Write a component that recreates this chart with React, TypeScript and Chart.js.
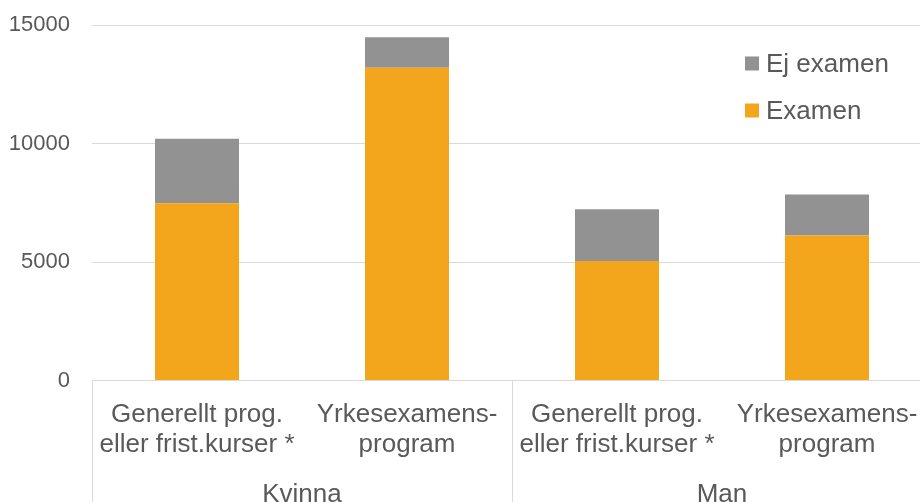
import React, { useEffect, useRef } from "react";
import { Chart, registerables } from "chart.js";

Chart.register(...registerables);

const categories: string[][] = [
  ["Generellt prog.", "eller frist.kurser *"],
  ["Yrkesexamens-", "program"],
  ["Generellt prog.", "eller frist.kurser *"],
  ["Yrkesexamens-", "program"],
];
const groups = ["Kvinna", "Man"];
const examen = [7480, 13200, 5050, 6120];
const ejExamen = [2730, 1290, 2180, 1730];
const seriesNames = ["Examen", "Ej examen"];
const yTicks = [0, 5000, 10000, 15000];

const FONT = "'Liberation Sans', Arial, sans-serif";
const TEXT = "#595959";
const LINE = "#d9d9d9";
const ORANGE = "#f3a51b";
const GREY = "#929293";

const SHIFT = 10.5; // canvas is moved up by this amount
const CW = 940;
const CH = 532;
const AXIS_Y = 380 + SHIFT;

const groupPlugin = {
  id: "groupAxis",
  afterDraw(chart: any) {
    const { ctx, chartArea } = chart;
    const { left, right, bottom } = chartArea;
    const mid = (left + right) / 2;
    ctx.save();
    ctx.strokeStyle = LINE;
    ctx.lineWidth = 1;
    [left, mid, right].forEach((x) => {
      const px = Math.round(x) + 0.5;
      ctx.beginPath();
      ctx.moveTo(px, bottom);
      ctx.lineTo(px, chart.height);
      ctx.stroke();
    });
    ctx.fillStyle = TEXT;
    ctx.font = `26px ${FONT}`;
    ctx.textAlign = "center";
    ctx.textBaseline = "alphabetic";
    const n = groups.length;
    groups.forEach((g, i) => {
      const cx = left + ((right - left) * (i + 0.5)) / n;
      ctx.fillText(g, cx, 501 + SHIFT);
    });
    // legend
    const ds = chart.data.datasets;
    const order = [...ds].reverse();
    order.forEach((d: any, i: number) => {
      const y = 63 + SHIFT + i * 47;
      ctx.fillStyle = d.backgroundColor;
      ctx.fillRect(745, y - 7, 14, 14);
      ctx.fillStyle = TEXT;
      ctx.textAlign = "left";
      ctx.textBaseline = "middle";
      ctx.font = `26px ${FONT}`;
      ctx.fillText(d.label, 766, y + 1);
    });
    ctx.restore();
  },
};

export default function App() {
  const ref = useRef<HTMLCanvasElement>(null);
  useEffect(() => {
    if (!ref.current) return;
    const chart = new Chart(ref.current, {
      type: "bar",
      data: {
        labels: categories,
        datasets: [
          {
            label: seriesNames[0],
            data: examen,
            backgroundColor: ORANGE,
            categoryPercentage: 1,
            barPercentage: 0.4,
          },
          {
            label: seriesNames[1],
            data: ejExamen,
            backgroundColor: GREY,
            categoryPercentage: 1,
            barPercentage: 0.4,
          },
        ],
      },
      options: {
        responsive: false,
        animation: false,
        layout: { padding: { left: 0, right: 8, top: 14, bottom: 0 } },
        plugins: { legend: { display: false }, tooltip: { enabled: false } },
        scales: {
          x: {
            stacked: true,
            grid: { display: false, drawTicks: false },
            border: { display: true, color: LINE, width: 1 },
            ticks: {
              color: TEXT,
              font: { family: FONT, size: 26, lineHeight: 1.15 },
              maxRotation: 0,
              minRotation: 0,
              autoSkip: false,
              padding: 19,
            },
            afterFit: (s: any) => {
              s.height = CH - AXIS_Y;
            },
          },
          y: {
            stacked: true,
            min: 0,
            max: 15000,
            afterBuildTicks: (s: any) => {
              s.ticks = yTicks.map((v) => ({ value: v }));
            },
            grid: { color: LINE, lineWidth: 1, drawTicks: false },
            border: { display: false },
            ticks: {
              color: TEXT,
              font: { family: FONT, size: 22 },
              padding: 22,
              callback: (v: any) => String(v),
            },
            afterFit: (s: any) => {
              s.width = 92;
            },
          },
        },
      },
      plugins: [groupPlugin],
    });
    return () => chart.destroy();
  }, []);
  return (
    <div
      style={{
        position: "absolute",
        left: 0,
        top: 0,
        width: 920,
        height: 502,
        overflow: "hidden",
        background: "#fff",
      }}
    >
      <canvas
        ref={ref}
        width={CW}
        height={CH}
        style={{ width: CW, height: CH, display: "block", position: "absolute", left: 0, top: -SHIFT }}
      />
    </div>
  );
}
